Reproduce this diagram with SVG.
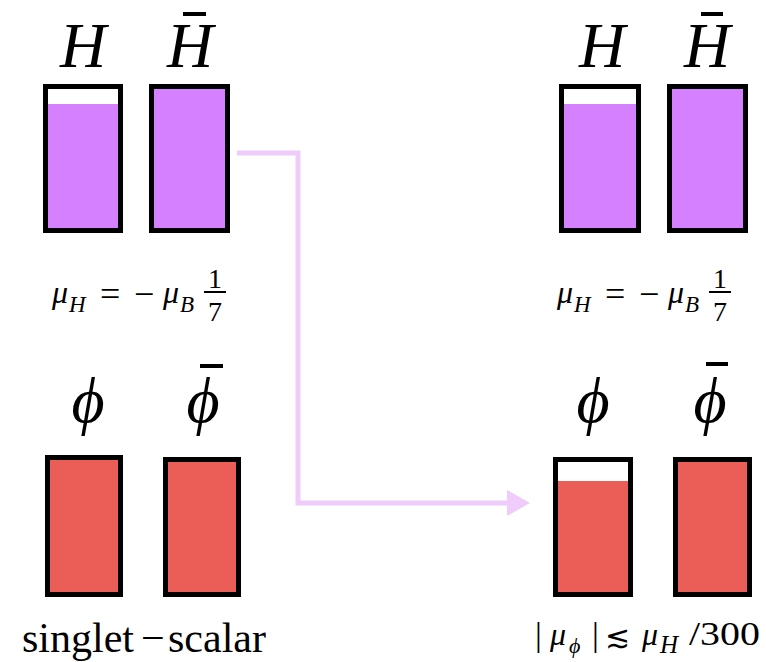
<svg xmlns="http://www.w3.org/2000/svg" width="766" height="662" viewBox="0 0 766 662">
<style>
.frame{fill:none;stroke:#000;stroke-width:5}
.pur{fill:#D580FF}
.red{fill:#EB5D57}
.wh{fill:#fff}
.bar{fill:#000}
.conn{fill:none;stroke:#F0CCFB;stroke-width:5}
.head{fill:#F0CCFB}
</style>
<rect width="766" height="662" fill="#fff"/>
<g id="connectors">
<polyline class="conn" points="237,153 298,153 298,503 509,503"/>
<polygon class="head" points="507,490 530,503 507,516"/>
</g>
<g id="H-left">
<text font-family="Liberation Serif" font-style="italic" x="83" y="67" font-size="64" text-anchor="middle">H</text>
<rect class="wh" x="45.5" y="86.5" width="75" height="144"/>
<rect class="pur" x="45.5" y="104" width="75" height="126.5"/>
<rect class="frame" x="45.5" y="86.5" width="75" height="144"/>
</g>
<g id="Hbar-left">
<text font-family="Liberation Serif" font-style="italic" x="190" y="67" font-size="64" text-anchor="middle">H</text>
<rect class="bar" x="183" y="12" width="23" height="4"/>
<rect class="frame" x="151.5" y="86.5" width="76" height="144" style="fill:#D580FF"/>
</g>
<g id="label-left">
<text font-family="Liberation Serif" font-style="italic" font-size="32" x="52" y="303">μ</text>
<text font-family="Liberation Serif" font-style="italic" font-size="23" x="69" y="312">H</text>
<text font-family="Liberation Serif" font-size="36" x="100" y="306">=</text>
<text font-family="Liberation Serif" font-size="36" x="134" y="306">−</text>
<text font-family="Liberation Serif" font-style="italic" font-size="32" x="163" y="303">μ</text>
<text font-family="Liberation Serif" font-style="italic" font-size="23" x="180" y="312">B</text>
<text font-family="Liberation Serif" font-size="28" x="215" y="288" text-anchor="middle">1</text>
<text font-family="Liberation Serif" font-size="28" x="215" y="321" text-anchor="middle">7</text>
<rect class="bar" x="204" y="291" width="22" height="2"/>
</g>
<g id="H-right">
<text font-family="Liberation Serif" font-style="italic" x="602" y="67" font-size="64" text-anchor="middle">H</text>
<rect class="wh" x="561.5" y="86.5" width="77" height="144"/>
<rect class="pur" x="561.5" y="104" width="77" height="126.5"/>
<rect class="frame" x="561.5" y="86.5" width="77" height="144"/>
</g>
<g id="Hbar-right">
<text font-family="Liberation Serif" font-style="italic" x="707" y="67" font-size="64" text-anchor="middle">H</text>
<rect class="bar" x="701" y="12" width="22" height="4"/>
<rect class="frame" x="669.5" y="86.5" width="76" height="144" style="fill:#D580FF"/>
</g>
<g id="label-right">
<text font-family="Liberation Serif" font-style="italic" font-size="32" x="557" y="303">μ</text>
<text font-family="Liberation Serif" font-style="italic" font-size="23" x="574" y="312">H</text>
<text font-family="Liberation Serif" font-size="36" x="605" y="306">=</text>
<text font-family="Liberation Serif" font-size="36" x="639" y="306">−</text>
<text font-family="Liberation Serif" font-style="italic" font-size="32" x="668" y="303">μ</text>
<text font-family="Liberation Serif" font-style="italic" font-size="23" x="685" y="312">B</text>
<text font-family="Liberation Serif" font-size="28" x="720" y="288" text-anchor="middle">1</text>
<text font-family="Liberation Serif" font-size="28" x="720" y="321" text-anchor="middle">7</text>
<rect class="bar" x="709" y="291" width="22" height="2"/>
</g>
<g id="phi-left">
<text font-family="Liberation Serif" font-style="italic" x="88" y="422" font-size="64" text-anchor="middle">ϕ</text>
<rect class="frame" x="47.5" y="457.5" width="73" height="137" style="fill:#EB5D57"/>
</g>
<g id="phibar-left">
<text font-family="Liberation Serif" font-style="italic" x="203" y="422" font-size="64" text-anchor="middle">ϕ</text>
<rect class="bar" x="200" y="364" width="23" height="4"/>
<rect class="frame" x="165.5" y="459.5" width="73" height="135" style="fill:#EB5D57"/>
</g>
<g id="phi-right">
<text font-family="Liberation Serif" font-style="italic" x="593" y="422" font-size="64" text-anchor="middle">ϕ</text>
<rect class="wh" x="555.5" y="459.5" width="75" height="135"/>
<rect class="red" x="555.5" y="481" width="75" height="113.5"/>
<rect class="frame" x="555.5" y="459.5" width="75" height="135"/>
</g>
<g id="phibar-right">
<text font-family="Liberation Serif" font-style="italic" x="710" y="422" font-size="64" text-anchor="middle">ϕ</text>
<rect class="bar" x="706" y="362" width="22" height="4"/>
<rect class="frame" x="675.5" y="459.5" width="74" height="135" style="fill:#EB5D57"/>
</g>
<g id="caption-left">
<text font-family="Liberation Serif" font-size="42" y="652"><tspan x="22">singlet</tspan><tspan x="141">−</tspan><tspan x="168">scalar</tspan></text>
</g>
<g id="caption-right">
<text font-family="Liberation Serif" font-size="34" x="535" y="646">|</text>
<text font-family="Liberation Serif" font-style="italic" font-size="32" x="550" y="645">μ</text>
<text font-family="Liberation Serif" font-style="italic" font-size="22" x="569" y="653">ϕ</text>
<text font-family="Liberation Serif" font-size="34" x="592" y="646">|</text>
<text font-family="DejaVu Sans" font-size="30" x="605" y="647">≲</text>
<text font-family="Liberation Serif" font-style="italic" font-size="32" x="642" y="645">μ</text>
<text font-family="Liberation Serif" font-style="italic" font-size="25" x="660" y="653">H</text>
<text font-family="Liberation Serif" font-size="34" x="689" y="645" textLength="71" lengthAdjust="spacingAndGlyphs">/300</text>
</g>
</svg>
